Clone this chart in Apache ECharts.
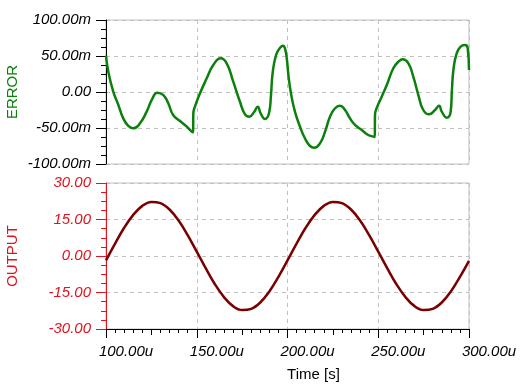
<!DOCTYPE html>
<html><head><meta charset="utf-8">
<script src="https://cdn.jsdelivr.net/npm/echarts@6/dist/echarts.min.js"></script>
<style>html,body{margin:0;padding:0;background:#fff}#c{width:520px;height:390px}</style>
</head><body><div id="c"></div><script>
// ERROR trace (time in µs, value in m-units)
const errTime = [100, 101.3, 104, 106.8, 109.5, 112.3, 115, 118.7, 122.4, 125.2, 128.3, 131.6, 134.3, 137, 140.8, 144.5, 147.2, 148.0, 148.1, 149, 151.8, 155.5, 159.1, 163.2, 166.5, 170.1, 173.8, 176.6, 179, 181.5, 183.6, 185.2, 187.6, 189.8, 190.9, 191.8, 193.7, 195.9, 197.7, 198.6, 199.6, 200.5, 201.9, 204.1, 206.9, 209.6, 212.4, 214.8, 217.9, 220.7, 223.4, 226.2, 228.9, 231.7, 234.4, 237.2, 240.9, 244.5, 247.3, 248.1, 248.2, 249.1, 251.9, 254.7, 258.3, 261.1, 263.5, 266.6, 269.3, 272.1, 274.8, 278, 281.3, 283.5, 285, 287.7, 289.9, 290.6, 291.4, 293.2, 295.4, 297.8, 299.3, 300];
const errValue = [50.4, 28, 0.4, -18, -36.6, -47, -50.5, -43.5, -27.3, -11, -1, -4.2, -15.7, -32, -40.3, -48, -55, -56, -30, -20.4, -1.8, 19, 37.5, 46.8, 39.8, 14.3, -13.5, -31, -34.3, -28.2, -20.4, -29.6, -37.5, -29.6, -4.2, 26, 51.4, 61.5, 64.3, 60.7, 46.8, 23.6, -1.8, -27.3, -48.2, -64.3, -75, -77.3, -71.3, -55.1, -34.3, -22.6, -19, -25, -36.5, -45.8, -52.8, -59.7, -62, -62.5, -32, -22.6, -6.5, 9.7, 32.9, 42, 45.4, 39.8, 21.3, -4.2, -25, -31, -25, -19, -27.3, -35.7, -27.3, 2.8, 30.6, 53.8, 62.9, 65.3, 60.7, 30.6];
// OUTPUT trace
const outTime = [100,105,110,115,120,125,130,135,140,145,150,155,160,165,170,175,180,185,190,195,200,205,210,215,220,225,230,235,240,245,250,255,260,265,270,275,280,285,290,295,300];
const outValue = [-1.8,5.1,11.6,16.9,20.6,22.2,21.7,19.1,14.6,8.6,1.8,-5.1,-11.6,-16.9,-20.6,-22.2,-21.7,-19.1,-14.6,-8.6,-1.8,5.1,11.6,16.9,20.6,22.2,21.7,19.1,14.6,8.6,1.8,-5.1,-11.6,-16.9,-20.6,-22.2,-21.7,-19.1,-14.6,-8.6,-2.0];
// axis ranges / ticks
const timeMin = 100, timeMax = 300, timeStep = 50;
const errMin = -100, errMax = 100, errStep = 50;
const outMin = -30, outMax = 30, outStep = 15;

const FONT = '"Liberation Sans", Arial, sans-serif';
const GC = '#c0c0c0';
const RED = '#e0141e';
const GREEN = '#0c800c';
const errData = errTime.map((t, i) => [t, errValue[i]]);
const outData = outTime.map((t, i) => [t, outValue[i]]);
const dashed = {show: true, lineStyle: {color: GC, type: [4, 4], width: 1}};

const chart = echarts.init(document.getElementById('c'), null, {renderer: 'canvas'});
chart.setOption({
  animation: false,
  backgroundColor: '#fff',
  grid: [
    {left: 106, right: 51, top: 20, height: 144, show: true, borderColor: GC, borderWidth: 1,
     containLabel: false, outerBoundsMode: 'none'},
    {left: 106, right: 51, top: 183, height: 146, show: true, borderColor: GC, borderWidth: 1,
     containLabel: false, outerBoundsMode: 'none'}
  ],
  xAxis: [
    {gridIndex: 0, type: 'value', position: 'bottom', min: timeMin, max: timeMax, interval: timeStep,
     axisLine: {show: false}, axisTick: {show: false}, axisLabel: {show: false}, splitLine: dashed},
    {gridIndex: 1, type: 'value', position: 'bottom', min: timeMin, max: timeMax, interval: timeStep,
     axisLine: {show: true, onZero: false, lineStyle: {color: '#000', width: 1}},
     axisTick: {show: true, length: 9, lineStyle: {color: '#000'}},
     minorTick: {show: true, splitNumber: 10, length: 4, lineStyle: {color: '#000'}},
     axisLabel: {show: true, margin: 15, showMinLabel: true, showMaxLabel: true,
       formatter: v => '{s| }{v|' + v.toFixed(2) + 'u}',
       rich: {s: {width: 40, fontSize: 15}, v: {fontFamily: FONT, fontSize: 15, fontStyle: 'italic', color: '#000'}}},
     splitLine: dashed,
     name: 'Time [s]', nameLocation: 'middle', nameGap: 38, nameMoveOverlap: false,
     nameTextStyle: {fontFamily: FONT, fontSize: 15, color: '#000', padding: [0, 0, 0, 52]}},
    {gridIndex: 1, type: 'value', position: 'bottom', min: timeMin, max: timeMax, interval: 25,
     axisLine: {show: false, onZero: false}, axisTick: {show: true, length: 6, lineStyle: {color: '#000'}},
     axisLabel: {show: false}, splitLine: {show: false}}
  ],
  yAxis: [
    {gridIndex: 0, type: 'value', min: errMin, max: errMax, interval: errStep,
     axisLine: {show: true, onZero: false, lineStyle: {color: '#000', width: 1}},
     axisTick: {show: true, length: 10, lineStyle: {color: '#000'}},
     minorTick: {show: true, splitNumber: 4, length: 5, lineStyle: {color: '#000'}},
     axisLabel: {margin: 15, fontFamily: FONT, fontSize: 15, fontStyle: 'italic', color: '#000',
       formatter: v => v === 0 ? '0.00' : v.toFixed(2) + 'm'},
     splitLine: dashed,
     name: 'ERROR', nameLocation: 'middle', nameRotate: 90, nameGap: 86, nameMoveOverlap: false,
     nameTextStyle: {fontFamily: FONT, fontSize: 15, color: GREEN}},
    {gridIndex: 1, type: 'value', min: outMin, max: outMax, interval: outStep,
     axisLine: {show: true, onZero: false, lineStyle: {color: RED, width: 1}},
     axisTick: {show: true, length: 10, lineStyle: {color: RED}},
     minorTick: {show: true, splitNumber: 4, length: 5, lineStyle: {color: RED}},
     axisLabel: {margin: 15, fontFamily: FONT, fontSize: 15, fontStyle: 'italic', color: RED,
       formatter: v => v.toFixed(2)},
     splitLine: dashed,
     name: 'OUTPUT', nameLocation: 'middle', nameRotate: 90, nameGap: 86, nameMoveOverlap: false,
     nameTextStyle: {fontFamily: FONT, fontSize: 15, color: RED}}
  ],
  series: [
    {type: 'line', xAxisIndex: 0, yAxisIndex: 0, data: errData, showSymbol: false,
     smooth: 0.5, lineStyle: {color: GREEN, width: 2.5}},
    {type: 'line', xAxisIndex: 1, yAxisIndex: 1, data: outData, showSymbol: false,
     smooth: 0.4, lineStyle: {color: '#7a0000', width: 2.5}}
  ]
});
</script></body></html>
